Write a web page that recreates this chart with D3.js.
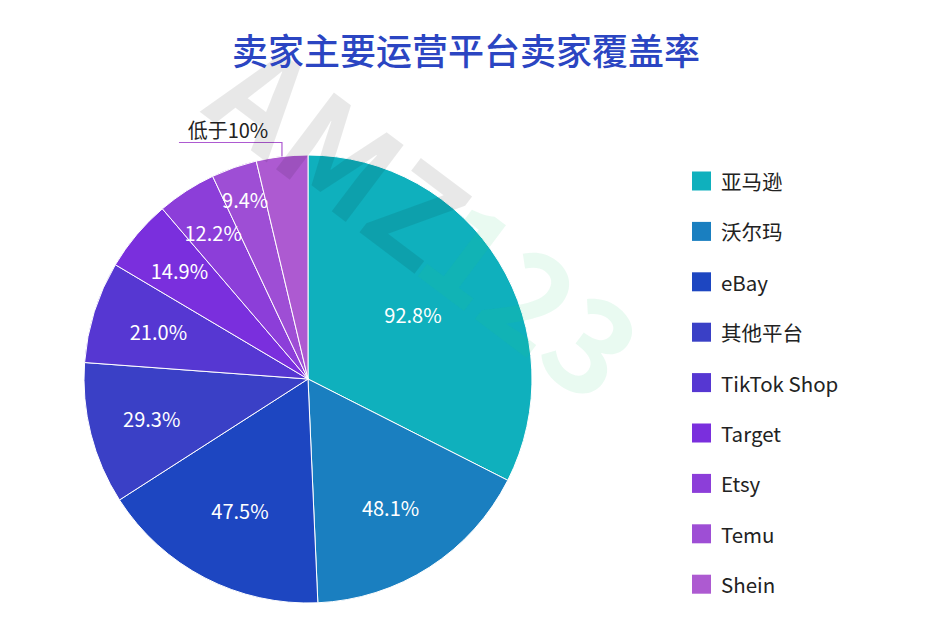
<!DOCTYPE html>
<html>
<head>
<meta charset="utf-8">
<script src="https://cdn.jsdelivr.net/npm/d3@7"></script>
<style>
  body { margin: 0; background: #fff; }
  text { font-family: "Noto Sans CJK SC", "Noto Sans", sans-serif; }
</style>
</head>
<body>
<div id="chart"></div>
<script>
// data
const platforms = ["亚马逊", "沃尔玛", "eBay", "其他平台", "TikTok Shop", "Target", "Etsy", "Temu", "Shein"];
const coverage = [92.8, 48.1, 47.5, 29.3, 21.0, 14.9, 12.2, 9.4, 10.6];
const valueLabels = ["92.8%", "48.1%", "47.5%", "29.3%", "21.0%", "14.9%", "12.2%", "9.4%", "低于10%"];
const colors = ["#0fb0bd", "#1a7fc0", "#1d46c1", "#3a40c6", "#5637d2", "#7a2fdd", "#8c3ed9", "#9e4ed5", "#ad5ad1"];

// how far out each inside label sits (fraction of radius)
const labelDist = [0.55, 0.68, 0.66, 0.72, 0.70, 0.75, 0.78, 0.85];

const W = 950, H = 632;
const cx = 308, cy = 379, R = 224;

const svg = d3.select("#chart")
    .append("svg")
    .attr("width", W)
    .attr("height", H);

const data = platforms.map((p, i) => ({name: p, value: coverage[i], label: valueLabels[i], color: colors[i]}));

const pie = d3.pie().value(d => d.value).sort(null);
const arcs = pie(data);
const arc = d3.arc().innerRadius(0).outerRadius(R);

const g = svg.append("g").attr("transform", `translate(${cx},${cy})`);

// slices
g.selectAll("path")
    .data(arcs)
    .join("path")
    .attr("d", arc)
    .attr("fill", d => d.data.color)
    .attr("stroke", "#fff")
    .attr("stroke-width", 1);

// inside labels
g.selectAll("text.inner")
    .data(arcs.slice(0, 8))
    .join("text")
    .attr("class", "inner")
    .attr("transform", (d, i) => {
        const a = (d.startAngle + d.endAngle) / 2;
        const r = R * labelDist[i];
        return `translate(${r * Math.sin(a)},${-r * Math.cos(a)})`;
    })
    .attr("text-anchor", "middle")
    .attr("dominant-baseline", "central")
    .attr("fill", "#fff")
    .attr("font-size", "20px")
    .text(d => d.data.label);

// outside label for the last slice
const last = arcs[arcs.length - 1];
const am = (last.startAngle + last.endAngle) / 2;
const ex = R * Math.sin(am), ey = -R * Math.cos(am);
g.append("polyline")
    .attr("points", [[ex, ey], [ex, ey - 14], [ex - 103, ey - 14]].map(p => p.join(",")).join(" "))
    .attr("fill", "none")
    .attr("stroke", last.data.color)
    .attr("stroke-width", 1.2);
g.append("text")
    .attr("x", ex - 54)
    .attr("y", ey - 19)
    .attr("text-anchor", "middle")
    .attr("fill", "#222")
    .attr("font-size", "20px")
    .text(last.data.label);

// watermark
const wmg = svg.append("g")
    .attr("transform", "translate(200,112) rotate(37)")
    .attr("pointer-events", "none");
wmg.append("text")
    .attr("x", 0).attr("y", 0)
    .attr("font-size", "130px")
    .attr("font-weight", "bold")
    .attr("font-family", "Roboto, sans-serif")
    .attr("fill", "#000")
    .attr("fill-opacity", 0.09)
    .text("AMZ");
wmg.append("text")
    .attr("x", 262).attr("y", 0)
    .attr("font-size", "130px")
    .attr("font-weight", "bold")
    .attr("font-family", "Roboto, sans-serif")
    .attr("fill", "#28d278")
    .attr("fill-opacity", 0.10)
    .text("123");

// title
svg.append("text")
    .attr("x", 466)
    .attr("y", 49)
    .attr("text-anchor", "middle")
    .attr("dominant-baseline", "central")
    .attr("fill", "#2b45c2")
    .attr("font-size", "36px")
    .attr("font-weight", "500")
    .text("卖家主要运营平台卖家覆盖率");

// legend
const legend = svg.append("g")
    .selectAll("g")
    .data(data)
    .join("g")
    .attr("transform", (d, i) => `translate(692,${181 + i * 50.4})`);
legend.append("rect")
    .attr("x", 0).attr("y", -9.5)
    .attr("width", 19).attr("height", 19)
    .attr("fill", d => d.color);
legend.append("text")
    .attr("x", 29)
    .attr("y", 0)
    .attr("dominant-baseline", "central")
    .attr("fill", "#222")
    .attr("font-size", "20.5px")
    .text(d => d.name);
</script>
</body>
</html>
